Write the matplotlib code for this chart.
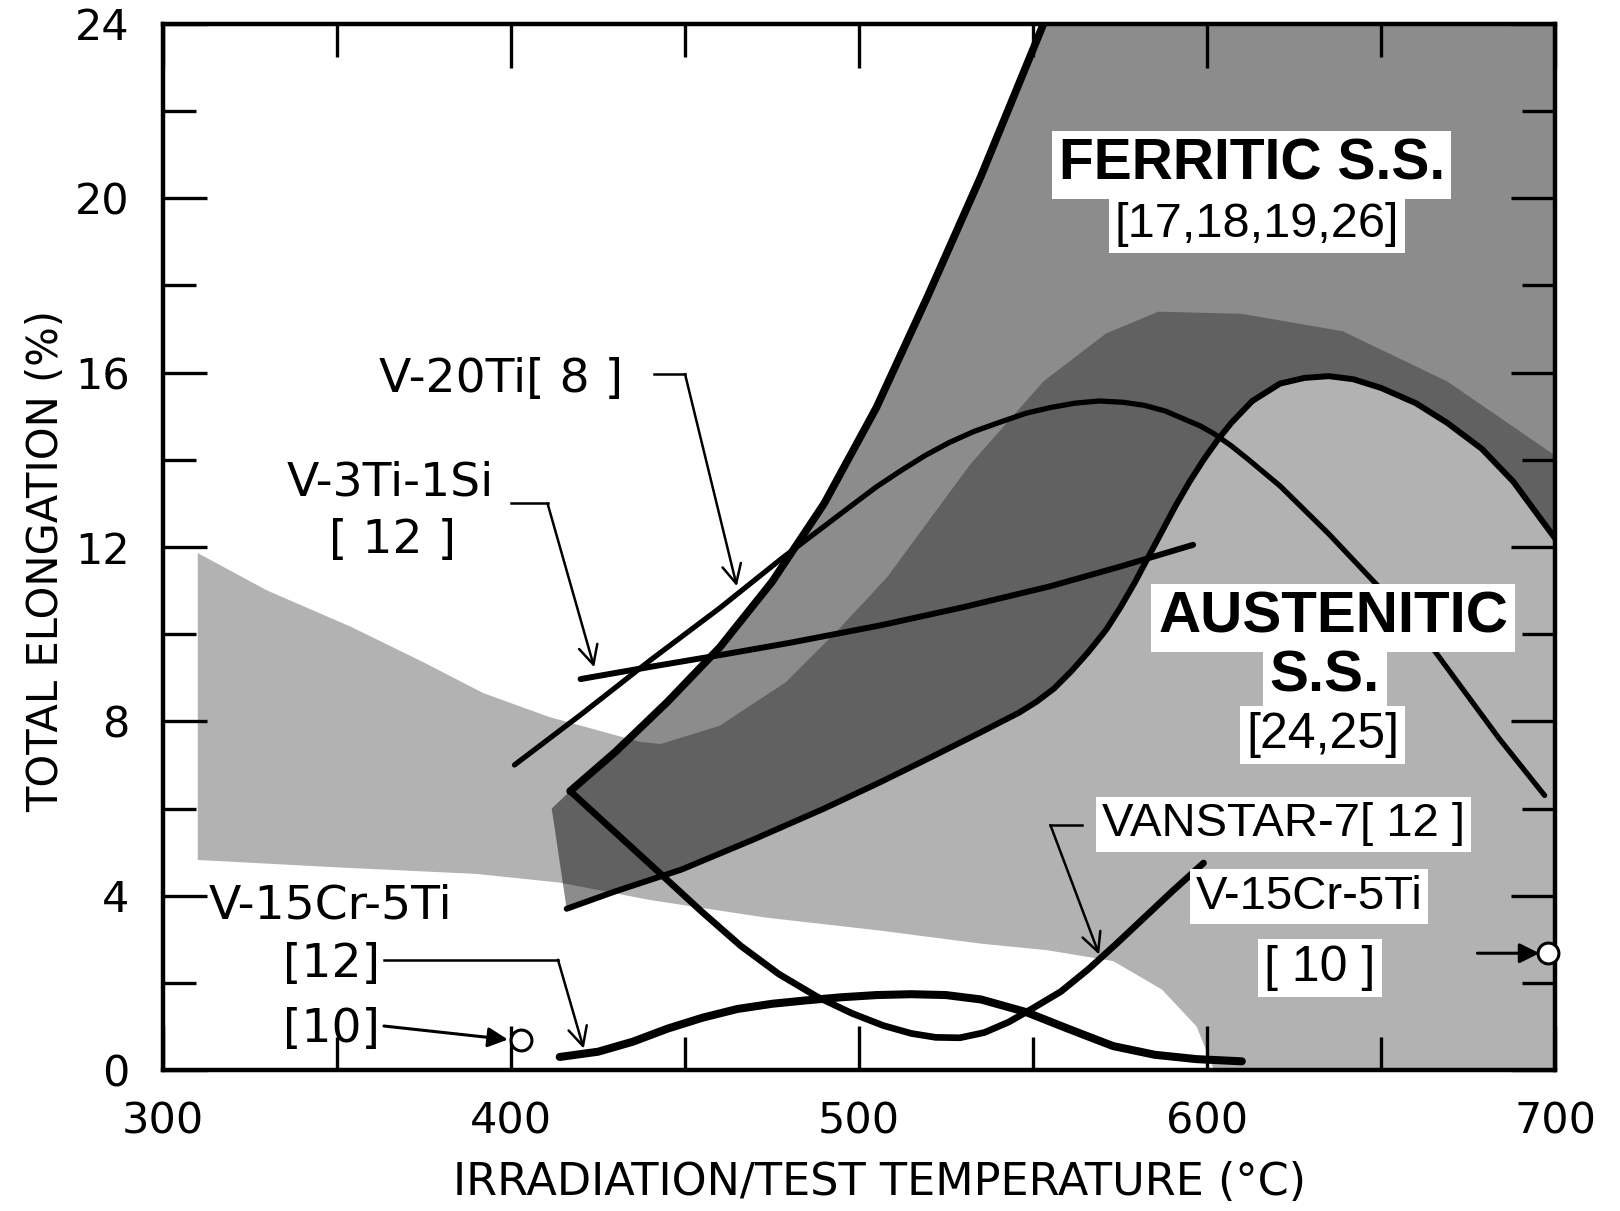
import matplotlib
matplotlib.use("Agg")
import matplotlib.pyplot as plt
from matplotlib.ticker import MultipleLocator

plt.rcParams['font.family'] = 'DejaVu Sans'

# ferritic S.S. band: steep left edge, then lower edge (hump) back to the left
ferr_left_x = [417, 430, 445, 460, 475, 490, 505, 520, 535, 553]
ferr_left_y = [6.4, 7.3, 8.45, 9.7, 11.2, 13.0, 15.2, 17.8, 20.5, 24.0]
ferr_tip_x = 411.7
ferr_tip_y = 6.0
hump_x = [416, 430, 449, 470, 490, 506, 520, 535, 546, 551, 556, 561, 566, 571, 575, 579,
          583, 587, 591, 595, 599, 603, 607, 613, 621, 628, 635, 642, 650, 660, 669, 679, 688, 700]
hump_y = [3.7, 4.1, 4.6, 5.3, 6.0, 6.6, 7.15, 7.75, 8.2, 8.45, 8.75, 9.15, 9.6, 10.1, 10.6, 11.15,
          11.75, 12.35, 12.95, 13.5, 14.0, 14.45, 14.85, 15.35, 15.75, 15.88, 15.92, 15.85, 15.65, 15.3,
          14.85, 14.25, 13.5, 12.2]

# austenitic S.S. band (upper and lower edges)
aus_top_x = [310, 330, 354, 375, 392, 411, 437, 443, 460, 479, 494, 508, 520, 532,
             553, 571, 586, 610, 639, 669, 700]
aus_top_y = [11.86, 11.0, 10.17, 9.35, 8.65, 8.1, 7.53, 7.48, 7.9, 8.9, 10.1, 11.3, 12.6, 13.9,
             15.8, 16.9, 17.4, 17.35, 16.95, 15.8, 14.1]
aus_bot_x = [310, 350, 390, 414, 440, 473, 506, 535, 554, 573, 587, 597, 602, 700]
aus_bot_y = [4.82, 4.65, 4.5, 4.3, 3.9, 3.5, 3.2, 2.9, 2.75, 2.5, 1.85, 1.0, 0.0, 0.0]

# vanadium alloy curves
v20ti_x = [401, 420, 440, 460, 478, 497, 505, 512, 519, 526, 533, 540, 548, 555, 562, 569, 576,
           582, 588, 593, 598, 602, 607, 612, 621, 635, 648, 660, 672, 684, 697]
v20ti_y = [7.0, 8.15, 9.4, 10.6, 11.75, 12.9, 13.38, 13.75, 14.1, 14.4, 14.65, 14.85, 15.07, 15.2,
           15.3, 15.35, 15.32, 15.25, 15.12, 14.95, 14.78, 14.6, 14.32, 14.0, 13.4, 12.3, 11.2, 10.2,
           8.9, 7.6, 6.3]
v3ti_x = [420, 440, 460, 480, 506, 530, 555, 575, 596]
v3ti_y = [8.97, 9.25, 9.52, 9.8, 10.2, 10.62, 11.1, 11.55, 12.05]
vanstar_x = [417, 430, 443, 455, 466, 477, 488, 498, 507, 515, 522, 529, 536, 543, 550, 558,
             566, 574, 582, 590, 599]
vanstar_y = [6.4, 5.45, 4.5, 3.62, 2.85, 2.2, 1.68, 1.3, 1.02, 0.84, 0.75, 0.74, 0.86, 1.1, 1.42, 1.8,
             2.32, 2.9, 3.5, 4.1, 4.75]
v15cr_x = [414, 425, 435, 445, 455, 465, 475, 485, 495, 505, 515, 525, 535, 548, 560, 573, 585, 597, 610]
v15cr_y = [0.3, 0.42, 0.65, 0.95, 1.2, 1.4, 1.52, 1.6, 1.67, 1.72, 1.74, 1.72, 1.62, 1.33, 0.95, 0.55,
           0.35, 0.25, 0.2]
v15cr_pts_x = [403, 698]
v15cr_pts_y = [0.68, 2.68]

fig = plt.figure(figsize=(16.2, 12.11), dpi=100)
ax = fig.add_axes([0.1006, 0.1164, 0.8593, 0.8638])

# shaded bands
aus_px = aus_top_x + aus_bot_x[::-1]
aus_py = aus_top_y + aus_bot_y[::-1]
ax.fill(aus_px, aus_py, color="black", alpha=0.30, lw=0, zorder=1)

fer_px = [ferr_tip_x] + ferr_left_x + [700] + hump_x[::-1]
fer_py = [ferr_tip_y] + ferr_left_y + [24] + hump_y[::-1]
ax.fill(fer_px, fer_py, color="black", alpha=0.45, lw=0, zorder=1.1)

# boundary curves
ax.plot(ferr_left_x, ferr_left_y, color="black", lw=5.5, zorder=3, solid_capstyle="round")
ax.plot(hump_x, hump_y, color="black", lw=4.3, zorder=3, solid_capstyle="round")
ax.plot(v20ti_x, v20ti_y, color="black", lw=3.8, zorder=3, solid_capstyle="round")
ax.plot(v3ti_x, v3ti_y, color="black", lw=4.3, zorder=3, solid_capstyle="round")
ax.plot(vanstar_x, vanstar_y, color="black", lw=4.8, zorder=3, solid_capstyle="round")
ax.plot(v15cr_x, v15cr_y, color="black", lw=5.8, zorder=3, solid_capstyle="round")
ax.plot(v15cr_pts_x, v15cr_pts_y, "o", ms=15, mfc="white", mec="black", mew=2.2,
        zorder=4, clip_on=False)

# labels
white = dict(boxstyle="square,pad=0.12", fc="white", ec="none")
reg = dict(fontsize=34, ha="center", va="center", zorder=6)
lib = dict(family="Liberation Sans", ha="center", va="center", zorder=6, bbox=white)

ax.text(612.8, 20.77, "FERRITIC S.S.", fontsize=41, weight="bold", **lib)
ax.text(614.3, 19.4, "[17,18,19,26]", fontsize=35, **lib)
ax.text(636.2, 10.38, "AUSTENITIC", fontsize=42, weight="bold", **lib)
ax.text(633.9, 9.03, "S.S.", fontsize=42, weight="bold", **lib)
ax.text(633.2, 7.69, "[24,25]", fontsize=36, **lib)
ax.text(622.0, 5.64, "VANSTAR-7[ 12 ]", fontsize=34, **lib)
ax.text(629.4, 3.98, "V-15Cr-5Ti", fontsize=34, **lib)
ax.text(632.5, 2.33, "[ 10 ]", fontsize=36, **lib)

ax.text(397.1, 15.84, "V-20Ti[ 8 ]", **reg)
ax.text(365.4, 13.47, "V-3Ti-1Si", **reg)
ax.text(366.0, 12.16, "[ 12 ]", **reg)
ax.text(348.1, 3.76, "V-15Cr-5Ti", **reg)
ax.text(348.3, 2.43, "[12]", **reg)
ax.text(348.3, 0.93, "[10]", **reg)

# leader lines and arrows
lead = dict(color="black", lw=1.8, zorder=4)
open_head = dict(arrowstyle="->", lw=1.8, mutation_scale=34, shrinkA=0, shrinkB=0)
full_head = dict(arrowstyle="-|>", lw=2.2, mutation_scale=30, color="black", shrinkA=0, shrinkB=0)
ax.plot([441, 450], [15.97, 15.97], **lead)
ax.annotate("", xy=(464.9, 11.1), xytext=(450, 15.97), arrowprops=open_head)
ax.plot([400, 410.5], [13.0, 13.0], **lead)
ax.annotate("", xy=(423.9, 9.24), xytext=(410.5, 13.0), arrowprops=open_head)
ax.plot([363.5, 413.5], [2.53, 2.53], **lead)
ax.annotate("", xy=(420.9, 0.49), xytext=(413.5, 2.53), arrowprops=open_head)
ax.annotate("", xy=(399.1, 0.70), xytext=(363.5, 1.01), arrowprops=full_head)
ax.plot([555, 564], [5.62, 5.62], **lead)
ax.annotate("", xy=(569.0, 2.65), xytext=(555, 5.62), arrowprops=open_head)
ax.annotate("", xy=(695.5, 2.68), xytext=(677.7, 2.68), arrowprops=full_head)

# axes
ax.set_xlim(300, 700)
ax.set_ylim(0, 24)
ax.xaxis.set_major_locator(MultipleLocator(100))
ax.xaxis.set_minor_locator(MultipleLocator(50))
ax.yaxis.set_major_locator(MultipleLocator(4))
ax.yaxis.set_minor_locator(MultipleLocator(2))
ax.tick_params(which="both", direction="in", top=True, right=True, width=2.4,
               labelsize=31, colors="black")
ax.tick_params(which="major", length=32)
ax.tick_params(which="minor", length=24)
ax.tick_params(axis="x", pad=22)
ax.tick_params(axis="y", pad=24)
for s in ax.spines.values():
    s.set_linewidth(3.2)

ax.set_xlabel("IRRADIATION/TEST TEMPERATURE (°C)", fontsize=32)
ax.set_ylabel("TOTAL ELONGATION (%)", fontsize=30)
ax.xaxis.set_label_coords(0.515, -0.087)
ax.yaxis.set_label_coords(-0.069, 0.487)

fig.savefig("out.png", dpi=100)
